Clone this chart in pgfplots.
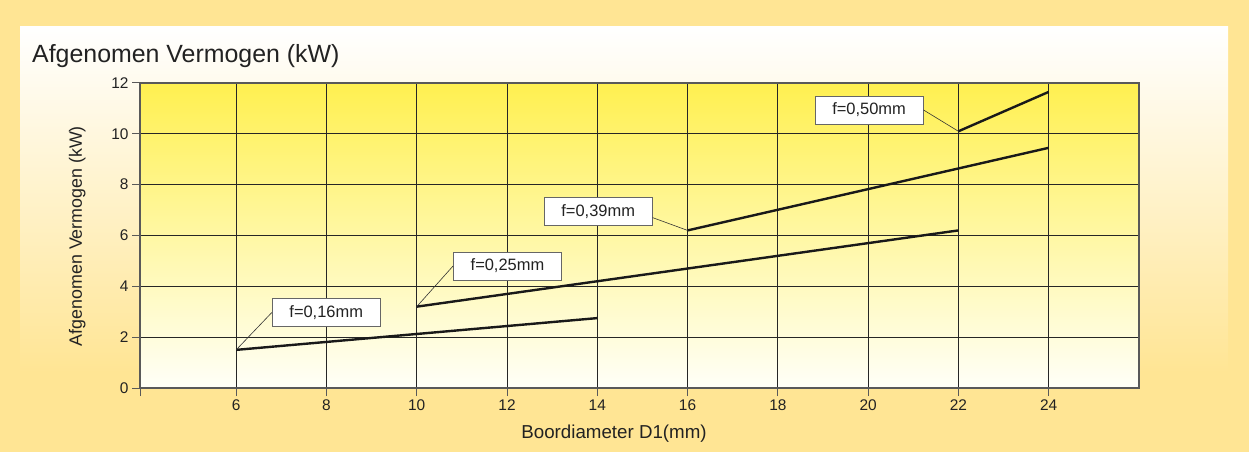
\documentclass[border=0pt]{standalone}
\usepackage{pgfplots}
\pgfplotsset{compat=1.18}
\usepackage{fontspec}
\setmainfont{Liberation Sans}
\definecolor{frame}{HTML}{FFE594}
\definecolor{plottop}{HTML}{FFF050}
\definecolor{plotbot}{HTML}{FFFFF8}
\definecolor{txt}{HTML}{222222}

\begin{document}
\begin{tikzpicture}
% background frame and panel
\fill[frame] (0,0) rectangle (1249bp,452bp);
\shade[top color=white, bottom color=frame] (20bp,80bp) rectangle (1228bp,425bp);
\node[anchor=base west, text=txt, font=\fontsize{25}{30}\selectfont, inner sep=0pt]
  at (32bp,389bp) {Afgenomen Vermogen (kW)};

\begin{axis}[
  at={(140bp,64bp)}, anchor=south west,
  width=999bp, height=305bp, scale only axis,
  xmin=3.87, xmax=26, ymin=0, ymax=12,
  xtick={6,8,...,24}, ytick={0,2,...,12},
  extra x ticks={3.87}, extra x tick labels={},
  extra x tick style={grid=none},
  grid=major,
  major grid style={black!85, line width=0.8bp},
  axis line style={gray!70!black, line width=1.2bp},
  tick align=outside, major tick length=8bp,
  tick style={gray!70!black, line width=1bp},
  xtick pos=bottom, ytick pos=left,
  axis background/.style={top color=plottop, bottom color=plotbot},
  /pgf/number format/assume math mode=true,
  tick label style={font=\fontsize{15.5}{18}\selectfont, text=txt},
  xlabel={Boordiameter D1(mm)},
  ylabel={Afgenomen Vermogen (kW)},
  xlabel style={at={(axis description cs:0.4745,-0.167)}, anchor=base,
    font=\fontsize{18.8}{22}\selectfont, text=txt},
  ylabel style={at={(axis description cs:-0.0581,0.498)}, anchor=base,
    font=\fontsize{17.9}{22}\selectfont, text=txt},
  clip=false,
]
\tikzset{serie/.style={black!90, line width=2.4bp, mark=none}}
\addplot[serie] coordinates {(6,1.5) (14,2.75)};
\addplot[serie] coordinates {(10,3.2) (22,6.2)};
\addplot[serie] coordinates {(16,6.2) (24,9.45)};
\addplot[serie] coordinates {(22,10.1) (24,11.65)};

\tikzset{lbl/.style={draw=gray!80!black, fill=white, line width=0.8bp,
  minimum width=108bp, minimum height=28bp, inner sep=0pt,
  font=\fontsize{16.5}{20}\selectfont, text=txt}}
\node[lbl] (a) at (axis cs:7.995,2.97) {f=0,16mm};
\node[lbl] (b) at (axis cs:12.01,4.80) {f=0,25mm};
\node[lbl] (c) at (axis cs:14.02,6.94) {f=0,39mm};
\node[lbl] (d) at (axis cs:20.02,10.94) {f=0,50mm};
\draw[black!80, line width=0.6bp] (a.west) -- (axis cs:6,1.5);
\draw[black!80, line width=0.6bp] (b.west) -- (axis cs:10,3.2);
\draw[black!80, line width=0.6bp] ([yshift=-6bp]c.east) -- (axis cs:16,6.2);
\draw[black!80, line width=0.6bp] (d.east) -- (axis cs:22,10.1);
\end{axis}
\end{tikzpicture}
\end{document}
